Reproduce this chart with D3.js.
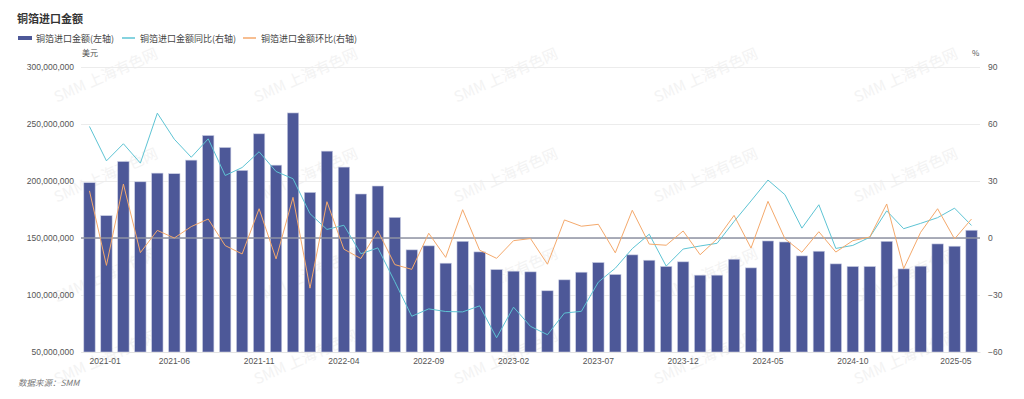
<!DOCTYPE html>
<html>
<head>
<meta charset="utf-8">
<script src="https://cdn.jsdelivr.net/npm/d3@7/dist/d3.min.js"></script>
<style>
  body { margin: 0; background: #fff; }
  svg { display: block; font-family: "Noto Sans CJK SC", "Noto Sans", sans-serif; }
</style>
</head>
<body>
<script>
// months 2021-01 .. 2025-05
const months = [];
for (let y = 2021; y <= 2025; y++) {
  for (let m = 1; m <= 12; m++) {
    if (y === 2025 && m > 5) break;
    months.push(y + '-' + String(m).padStart(2, '0'));
  }
}

// 铜箔进口金额, million USD
const importValue = [
  198.5, 169.6, 217.1, 199.3, 206.9, 206.4, 218.3, 239.9, 229.4, 209.3,
  241.4, 213.9, 259.7, 190.0, 226.2, 212.2, 188.6, 195.6, 168.1, 139.6,
  143.1, 127.9, 147.1, 137.8, 122.3, 120.9, 120.3, 103.7, 113.3, 120.0,
  128.5, 118.0, 135.2, 130.5, 125.0, 129.1, 117.4, 117.4, 131.4, 123.8,
  147.4, 146.5, 134.3, 138.4, 127.3, 125.0, 125.0, 147.1, 122.9, 125.3,
  144.8, 142.8, 156.8
];

// 同比 %
const yoy = [
  58.7, 40.6, 49.6, 39.4, 65.7, 52.0, 42.5, 52.2, 32.9, 37.1,
  45.4, 35.0, 31.2, 12.8, 4.5, 6.7, -8.3, -5.2, -23.0, -41.2,
  -37.3, -38.7, -38.9, -35.7, -52.5, -36.4, -46.5, -50.9, -39.5, -38.6,
  -23.2, -15.9, -5.6, 2.0, -14.8, -5.8, -4.2, -2.8, 8.7, 19.5,
  30.5, 22.8, 5.2, 17.5, -5.5, -3.9, 0.4, 14.3, 4.9, 7.7,
  10.7, 15.7, 6.6
];

// 环比 %
const mom = [
  24.8, -14.4, 28.4, -7.7, 4.0, 0.0, 6.0, 10.0, -4.0, -8.4,
  15.4, -11.0, 21.4, -26.4, 19.1, -5.9, -10.8, 3.8, -14.0, -16.5,
  2.5, -10.2, 14.9, -6.4, -10.7, -1.4, -0.3, -13.8, 9.5, 6.2,
  7.2, -7.8, 14.6, -3.2, -3.8, 3.7, -8.8, -0.5, 11.9, -5.3,
  19.3, -0.4, -7.5, 3.3, -7.4, -1.4, 0.5, 17.9, -16.1, 3.0,
  15.4, -0.5, 10.0
];

const leftTicks = [50e6, 100e6, 150e6, 200e6, 250e6, 300e6];
const rightTicks = [-60, -30, 0, 30, 60, 90];
const xLabelIdx = [0, 5, 10, 15, 20, 25, 30, 35, 40, 45, 52];

const legendItems = ['铜箔进口金额(左轴)', '铜箔进口金额同比(右轴)', '铜箔进口金额环比(右轴)'];

const W = 1024, H = 399;
const m = { left: 81, right: 44, top: 67, bottom: 47 };
const barColor = '#4d5898', yoyColor = '#5ec4d4', momColor = '#f4a96c';

const svg = d3.select('body').append('svg')
  .attr('width', W)
  .attr('height', H);

// watermark
const wm = svg.append('g');
[80, 180, 280, 362].forEach(wy => {
  [108, 308, 508, 708, 908].forEach(wx => {
    wm.append('text')
      .attr('transform', `translate(${wx},${wy}) rotate(-24)`)
      .attr('text-anchor', 'middle')
      .attr('font-size', 15)
      .attr('fill', '#f3f3f3')
      .text('SMM 上海有色网');
  });
});

const x = d3.scaleBand()
  .domain(months)
  .range([m.left, W - m.right])
  .paddingInner(0.33)
  .paddingOuter(0.165);

const yL = d3.scaleLinear().domain([50e6, 300e6]).range([H - m.bottom, m.top]);
const yR = d3.scaleLinear().domain([-60, 90]).range([H - m.bottom, m.top]);

// grid
svg.append('g')
  .selectAll('line')
  .data(leftTicks)
  .enter()
  .append('line')
  .attr('x1', m.left)
  .attr('x2', W - m.right)
  .attr('y1', d => Math.round(yL(d)) + 0.5)
  .attr('y2', d => Math.round(yL(d)) + 0.5)
  .attr('stroke', '#ececec');

// left axis
const axL = svg.append('g')
  .attr('transform', `translate(${m.left - 4},0)`)
  .call(d3.axisLeft(yL).tickValues(leftTicks).tickFormat(d3.format(',')).tickSize(0));
axL.select('.domain').remove();
axL.selectAll('text').attr('font-size', 8.5).attr('fill', '#555');

// right axis
const axR = svg.append('g')
  .attr('transform', `translate(${W - m.right + 5},0)`)
  .call(d3.axisRight(yR).tickValues(rightTicks).tickSize(0));
axR.select('.domain').remove();
axR.selectAll('text').attr('font-size', 8.5).attr('fill', '#555');

// bars
svg.append('g')
  .selectAll('rect')
  .data(importValue)
  .enter()
  .append('rect')
  .attr('x', (d, i) => x(months[i]))
  .attr('width', x.bandwidth())
  .attr('y', d => yL(d * 1e6))
  .attr('height', d => yL(50e6) - yL(d * 1e6))
  .attr('fill', barColor)
  .attr('stroke', '#c9cde3')
  .attr('stroke-width', 0.6);

// zero line of right axis
svg.append('line')
  .attr('x1', m.left)
  .attr('x2', W - m.right)
  .attr('y1', yR(0))
  .attr('y2', yR(0))
  .attr('stroke', '#8f93a3')
  .attr('stroke-width', 1.3);

// x axis
const axB = svg.append('g')
  .attr('transform', `translate(0,${H - m.bottom})`)
  .call(d3.axisBottom(x).tickValues(xLabelIdx.map(i => months[i])).tickSize(0).tickPadding(6));
axB.select('.domain').attr('stroke', '#e3e3e3');
axB.selectAll('text')
  .attr('font-size', 8.5)
  .attr('fill', '#555')
  .attr('text-anchor', (d, i, n) => (i === 0 ? 'start' : (i === n.length - 1 ? 'end' : 'middle')));

// lines
const lineR = d3.line()
  .x((d, i) => x(months[i]) + x.bandwidth() / 2)
  .y(d => yR(d));

svg.append('path')
  .datum(yoy)
  .attr('d', lineR)
  .attr('fill', 'none')
  .attr('stroke', yoyColor)
  .attr('stroke-width', 1);

svg.append('path')
  .datum(mom)
  .attr('d', lineR)
  .attr('fill', 'none')
  .attr('stroke', momColor)
  .attr('stroke-width', 1);

// title
svg.append('text')
  .attr('x', 17)
  .attr('y', 23)
  .attr('font-size', 11)
  .attr('font-weight', 'bold')
  .attr('fill', '#333')
  .text('铜箔进口金额');

// legend
const legendX = [18, 122, 243];
const lg = svg.append('g');
lg.append('rect').attr('x', legendX[0]).attr('y', 36).attr('width', 14).attr('height', 4).attr('fill', barColor);
lg.append('line').attr('x1', legendX[1]).attr('x2', legendX[1] + 13).attr('y1', 38).attr('y2', 38)
  .attr('stroke', yoyColor).attr('stroke-width', 1.5);
lg.append('line').attr('x1', legendX[2]).attr('x2', legendX[2] + 13).attr('y1', 38).attr('y2', 38)
  .attr('stroke', momColor).attr('stroke-width', 1.5);
lg.selectAll('text')
  .data(legendItems)
  .enter()
  .append('text')
  .attr('x', (d, i) => legendX[i] + 18)
  .attr('y', 41.5)
  .attr('font-size', 9)
  .attr('fill', '#444')
  .text(d => d);

// units
svg.append('text').attr('x', 82).attr('y', 56).attr('font-size', 8).attr('fill', '#555').text('美元');
svg.append('text').attr('x', 972).attr('y', 56).attr('font-size', 8).attr('fill', '#555').text('%');

// source
svg.append('text')
  .attr('x', 18)
  .attr('y', 386)
  .attr('font-size', 8.5)
  .attr('font-style', 'italic')
  .attr('fill', '#777')
  .text('数据来源：SMM');
</script>
</body>
</html>
